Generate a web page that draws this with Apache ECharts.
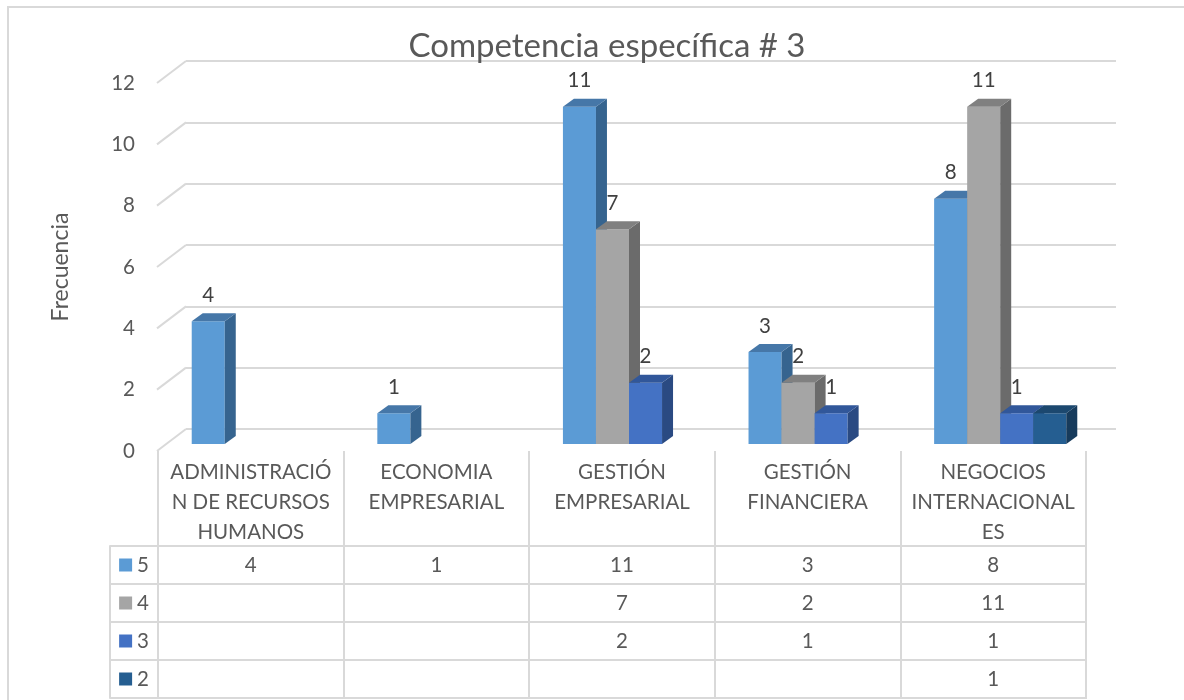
<!DOCTYPE html>
<html>
<head>
<meta charset="utf-8">
<script src="https://cdn.jsdelivr.net/npm/echarts@6/dist/echarts.min.js"></script>
<style>
  html, body { margin: 0; padding: 0; background: #fff; }
  #chart { width: 1184px; height: 700px; }
</style>
</head>
<body>
<div id="chart"></div>
<script>
// ---------- data ----------
const categories = ['ADMINISTRACIÓN DE RECURSOS HUMANOS', 'ECONOMIA EMPRESARIAL', 'GESTIÓN EMPRESARIAL', 'GESTIÓN FINANCIERA', 'NEGOCIOS INTERNACIONALES'];
const categoryLabels = ['ADMINISTRACIÓ\nN DE RECURSOS\nHUMANOS', 'ECONOMIA\nEMPRESARIAL', 'GESTIÓN\nEMPRESARIAL', 'GESTIÓN\nFINANCIERA', 'NEGOCIOS\nINTERNACIONAL\nES'];
const seriesNames = ['5', '4', '3', '2'];
const values5 = [4, 1, 11, 3, 8];
const values4 = [null, null, 7, 2, 11];
const values3 = [null, null, 2, 1, 1];
const values2 = [null, null, null, null, 1];
const showBarLabels = [true, true, true, false];
const yTicks = [0, 2, 4, 6, 8, 10, 12];
const titleText = 'Competencia específica # 3';
const yAxisName = 'Frecuencia';

// ---------- styles ----------
const FONT = 'Lato';
const FS = 20.5;
const TXT = '#595959';
const GRIDC = '#d9d9d9';
const palette = [
  { front: '#5B9BD5', top: '#4677A8', side: '#36648F' },
  { front: '#A5A5A5', top: '#808080', side: '#6B6B6B' },
  { front: '#4472C4', top: '#31579A', side: '#2A4A82' },
  { front: '#255E91', top: '#1C486F', side: '#173B5C' }
];
const allValues = [values5, values4, values3, values2];

const chart = echarts.init(document.getElementById('chart'), null, { renderer: 'canvas' });

function barSeries(k) {
  const vals = allValues[k];
  const c = palette[k];
  return {
    type: 'custom',
    name: seriesNames[k],
    xAxisIndex: 0,
    yAxisIndex: 0,
    z: 5,
    data: vals.map((v, i) => [i, v]).filter(d => d[1] != null),
    renderItem: function (params, api) {
      const ci = api.value(0), v = api.value(1);
      const base = api.coord([ci, 0]);
      const top = api.coord([ci, v]);
      const band = api.size([1, 0])[0];
      const w = band * 0.178;
      const dx = 11, dy = 8;
      const x0 = base[0] - 2 * w + 7 + k * w;
      const yb = base[1] - 7, yt = top[1] - 7;
      const children = [
        { type: 'rect', shape: { x: x0, y: yt, width: w, height: yb - yt }, style: { fill: c.front } },
        { type: 'polygon', shape: { points: [[x0 + w, yt], [x0 + w + dx, yt - dy], [x0 + w + dx, yb - dy], [x0 + w, yb]] }, style: { fill: c.side } },
        { type: 'polygon', shape: { points: [[x0, yt], [x0 + dx, yt - dy], [x0 + w + dx, yt - dy], [x0 + w, yt]] }, style: { fill: c.top } }
      ];
      if (showBarLabels[k]) {
        children.push({ type: 'text', z2: 100, style: { text: String(v), x: x0 + w / 2, y: yt - 26, align: 'center', verticalAlign: 'middle', fill: '#404040', font: FS + 'px ' + FONT } });
      }
      return { type: 'group', children: children };
    }
  };
}

const diagSeries = {
  type: 'custom',
  xAxisIndex: 0,
  yAxisIndex: 0,
  z: 1,
  silent: true,
  data: yTicks.map(t => [0, t]),
  renderItem: function (params, api) {
    const p = api.coord([0, api.value(1)]);
    const x = params.coordSys.x;
    return { type: 'line', shape: { x1: x - 1, y1: p[1], x2: x + 28, y2: p[1] - 22 }, style: { stroke: GRIDC, lineWidth: 2 } };
  }
};

const tableData = [];
allValues.forEach((arr, r) => arr.forEach((v, c) => { if (v != null) tableData.push([c, r, v]); }));

const tableSeries = {
  type: 'custom',
  xAxisIndex: 2,
  yAxisIndex: 2,
  data: tableData,
  renderItem: function (params, api) {
    const p = api.coord([api.value(0), api.value(1)]);
    return { type: 'text', style: { text: String(api.value(2)), x: p[0], y: p[1], align: 'center', verticalAlign: 'middle', fill: TXT, font: FS + 'px ' + FONT } };
  }
};

const legendRich = {};
seriesNames.forEach((n, i) => {
  legendRich['s' + i] = { width: 13, height: 13, backgroundColor: palette[i].front };
  legendRich['t' + i] = { fontSize: FS, fontFamily: FONT, color: TXT, padding: [0, 0, 0, 5] };
});

const option = {
  animation: false,
  backgroundColor: '#fff',
  title: {
    text: titleText,
    left: 602,
    top: 25,
    textAlign: 'center',
    textStyle: { fontFamily: FONT, fontSize: 33, fontWeight: 'normal', color: TXT }
  },
  graphic: [
    { type: 'rect', shape: { x: 8, y: 7, width: 1190, height: 710 }, style: { fill: null, stroke: GRIDC, lineWidth: 2 }, z: -1, silent: true }
  ],
  grid: [
    { left: 158, right: 98, top: 83, bottom: 249 },   // front plane
    { left: 186, right: 68, top: 61, bottom: 271 },   // back wall
    { left: 158, right: 98, top: 546, bottom: 2, show: true, borderColor: GRIDC, borderWidth: 2 } // data table
  ],
  xAxis: [
    {
      type: 'category', gridIndex: 0, data: categories,
      axisLine: { show: false }, axisTick: { show: false },
      axisLabel: {
        interval: 0, margin: 6, color: TXT, fontFamily: FONT, fontSize: FS, lineHeight: 30,
        verticalAlign: 'top',
        formatter: (v, i) => categoryLabels[i]
      }
    },
    { type: 'category', gridIndex: 1, data: categories, show: false },
    {
      type: 'category', gridIndex: 2, data: categories, position: 'top',
      axisLine: { show: false }, axisLabel: { show: false },
      axisTick: { show: true, interval: 0, length: 95, lineStyle: { color: GRIDC, width: 2 } },
      splitLine: { show: true, interval: 0, lineStyle: { color: GRIDC, width: 2 } }
    }
  ],
  yAxis: [
    {
      type: 'value', gridIndex: 0, min: 0, max: 12, interval: 2,
      name: yAxisName, nameLocation: 'middle', nameRotate: 90, nameGap: 86,
      nameTextStyle: { fontFamily: FONT, fontSize: 23, color: TXT },
      axisLine: { show: false }, axisTick: { show: false }, splitLine: { show: false },
      axisLabel: { margin: 23, color: TXT, fontFamily: FONT, fontSize: FS }
    },
    {
      type: 'value', gridIndex: 1, min: 0, max: 12, interval: 2,
      axisLine: { show: false }, axisTick: { show: false }, axisLabel: { show: false },
      splitLine: { show: true, lineStyle: { color: GRIDC, width: 2 } }
    },
    {
      type: 'category', gridIndex: 2, data: seriesNames, inverse: true,
      axisLine: { show: false },
      axisTick: { show: true, interval: 0, length: 48, lineStyle: { color: GRIDC, width: 2 } },
      splitLine: { show: true, interval: 0, lineStyle: { color: GRIDC, width: 2 } },
      axisLabel: {
        margin: 9, interval: 0,
        formatter: (v, i) => '{s' + i + '|}{t' + i + '|' + v + '}',
        rich: legendRich
      }
    },
    {
      type: 'category', gridIndex: 2, data: seriesNames, inverse: true, position: 'left', offset: 48,
      axisLine: { show: true, lineStyle: { color: GRIDC, width: 2 } },
      axisTick: { show: false }, axisLabel: { show: false }, splitLine: { show: false }
    }
  ],
  series: [diagSeries, barSeries(0), barSeries(1), barSeries(2), barSeries(3), tableSeries]
};

chart.setOption(option);
</script>
</body>
</html>
